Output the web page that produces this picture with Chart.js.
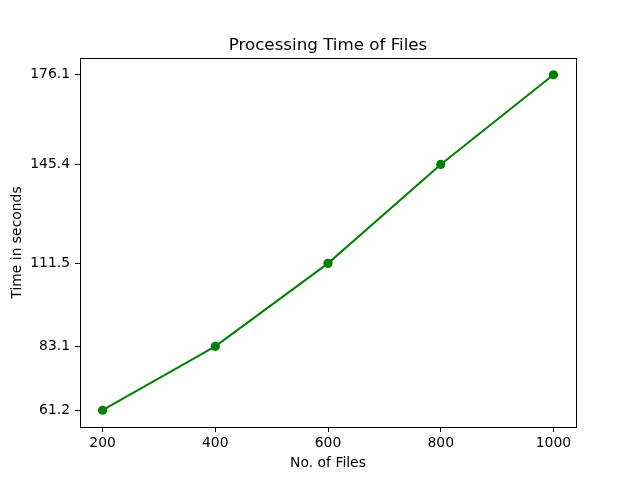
<!DOCTYPE html>
<html>
<head>
<meta charset="utf-8">
<script src="https://cdn.jsdelivr.net/npm/chart.js@4/dist/chart.umd.min.js"></script>
<style>
  html, body { margin: 0; padding: 0; background: #fff; }
  #wrap { width: 640px; height: 480px; }
</style>
</head>
<body>
<div id="wrap"><canvas id="chart" width="640" height="480"></canvas></div>
<script>
// ── Data ──
const fileCounts = [200, 400, 600, 800, 1000];
const timeSeconds = [61.2, 83.1, 111.5, 145.4, 176.1];
const xTicks = [200, 400, 600, 800, 1000];
const yTicks = [61.2, 83.1, 111.5, 145.4, 176.1];

const FONT = 'DejaVu Sans';

// matplotlib-like 5% margins
const xSpan = Math.max(...fileCounts) - Math.min(...fileCounts);
const ySpan = Math.max(...timeSeconds) - Math.min(...timeSeconds);

// ── Title + box round the axes ──
const frame = {
  id: 'frame',
  afterDraw(chart) {
    const { ctx, chartArea: a } = chart;
    ctx.save();
    ctx.strokeStyle = '#000';
    ctx.lineWidth = 1;
    ctx.strokeRect(Math.round(a.left) + 0.5, Math.round(a.top) + 0.5,
      Math.round(a.right - a.left), Math.round(a.bottom - a.top));
    ctx.fillStyle = '#000';
    ctx.font = '16.7px "' + FONT + '"';
    ctx.textAlign = 'center';
    ctx.textBaseline = 'alphabetic';
    ctx.fillText('Processing Time of Files', (a.left + a.right) / 2, a.top - 8);
    ctx.restore();
  }
};

new Chart(document.getElementById('chart'), {
  type: 'line',
  data: {
    datasets: [{
      data: fileCounts.map((x, i) => ({ x: x, y: timeSeconds[i] })),
      borderColor: '#008000',
      backgroundColor: '#008000',
      borderWidth: 2,
      pointRadius: 4.6,
      pointHoverRadius: 4.6,
      pointBorderWidth: 0,
      tension: 0
    }]
  },
  options: {
    responsive: false,
    animation: false,
    layout: { padding: { top: 58, right: 64, left: 0, bottom: 0 } },
    plugins: { legend: { display: false }, tooltip: { enabled: false } },
    scales: {
      x: {
        type: 'linear',
        min: Math.min(...fileCounts) - xSpan * 0.05,
        max: Math.max(...fileCounts) + xSpan * 0.05,
        afterBuildTicks: s => { s.ticks = xTicks.map(v => ({ value: v })); },
        afterFit: s => { s.height = 53; },
        border: { display: false },
        grid: { drawOnChartArea: false, drawTicks: true, tickLength: 5, color: '#000' },
        ticks: { color: '#000', padding: 3, maxRotation: 0, callback: v => String(v),
          font: { family: FONT, size: 13.9 } },
        title: { display: true, text: 'No. of Files', color: '#000',
          font: { family: FONT, size: 13.9 }, padding: { top: 0, bottom: 8 } }
      },
      y: {
        min: Math.min(...timeSeconds) - ySpan * 0.05,
        max: Math.max(...timeSeconds) + ySpan * 0.05,
        afterBuildTicks: s => { s.ticks = yTicks.map(v => ({ value: v })); },
        afterFit: s => { s.width = 80; },
        border: { display: false },
        grid: { drawOnChartArea: false, drawTicks: true, tickLength: 5, color: '#000' },
        ticks: { color: '#000', padding: 5, callback: v => v.toFixed(1),
          font: { family: FONT, size: 13.9 } },
        title: { display: true, text: 'Time in seconds', color: '#000',
          font: { family: FONT, size: 13.9 }, padding: { top: 9, bottom: 0 } }
      }
    }
  },
  plugins: [frame]
});
</script>
</body>
</html>
